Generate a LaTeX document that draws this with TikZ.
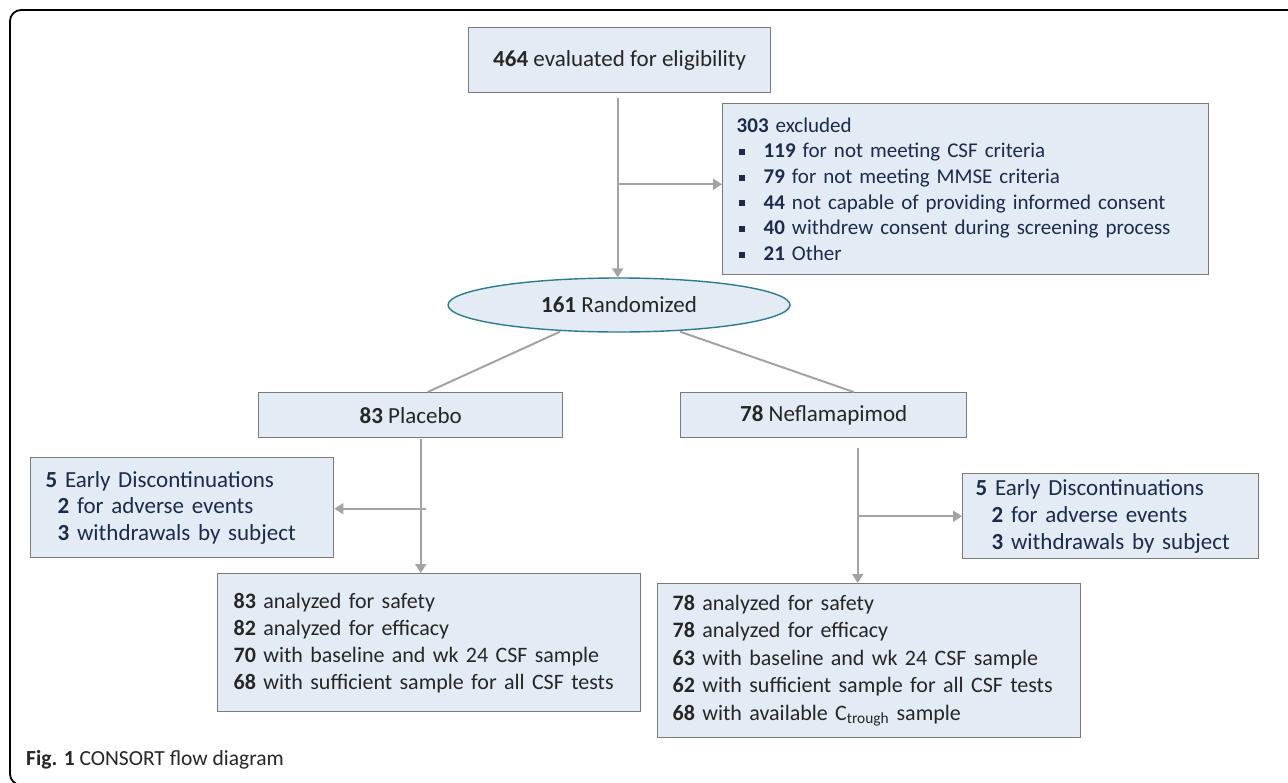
\documentclass[tikz,border=0pt]{standalone}
\usepackage{fontspec}
\setmainfont{Carlito}
\usetikzlibrary{arrows.meta,shapes.geometric,calc}
\definecolor{boxfill}{HTML}{E3EBF4}
\definecolor{boxline}{HTML}{7A7A7A}
\definecolor{arrowgrey}{HTML}{A3A3A3}
\definecolor{navytext}{HTML}{1C2A4C}
\definecolor{darktext}{HTML}{262626}
\definecolor{ellline}{HTML}{2F7B8E}
\newcommand{\mybul}{\makebox[27pt][l]{\hspace*{2pt}\rule[3pt]{6pt}{6pt}}}
\begin{document}
\begin{tikzpicture}[x=1pt,y=-1pt,
  box/.style={draw=boxline, line width=1.4pt, fill=boxfill, text=darktext,
    inner sep=0pt, anchor=north west, font=\fontsize{23}{27}\selectfont},
  navybox/.style={box, text=navytext},
  conn/.style={draw=arrowgrey, line width=2pt},
  arr/.style={conn, -{Triangle[width=11pt,length=9pt]}}]
\useasboundingbox (0,0) rectangle (1288,782);
% frame
\draw[line width=1.8pt, rounded corners=11pt] (1300,10) -- (10,10) -- (10,785) -- (40,785);

% nodes
\node[box, minimum width=302pt, minimum height=65pt] (elig) at (468,27)
  {\textbf{464} evaluated for eligibility};
\node[navybox, text width=458pt, inner xsep=14pt, minimum height=171pt,
  align=left, font=\fontsize{21}{25.7}\selectfont] (excl) at (722,103)
  {\textbf{303} excluded\\
   \mybul\textbf{119} for not meeting CSF criteria\\
   \mybul\textbf{79} for not meeting MMSE criteria\\
   \mybul\textbf{44} not capable of providing informed consent\\
   \mybul\textbf{40} withdrew consent during screening process\\
   \mybul\textbf{21} Other};
\node[draw=ellline, line width=1.4pt, fill=boxfill, ellipse, text=darktext,
  minimum width=342pt, minimum height=54pt, inner sep=0pt,
  font=\fontsize{23}{27}\selectfont] (rand) at (619,305) {\textbf{161} Randomized};
\node[box, minimum width=304pt, minimum height=45pt] (plac) at (258,392)
  {\textbf{83} Placebo};
\node[box, minimum width=286pt, minimum height=45pt] (nefl) at (680,392)
  {\textbf{78} Neflamapimod};
\node[navybox, text width=273pt, inner xsep=15pt, minimum height=100pt,
  align=left, font=\fontsize{23}{26.5}\selectfont] (ldisc) at (30,457)
  {\textbf{5} Early Discontinuations\\
   \hspace*{12pt}\textbf{2} for adverse events\\
   \hspace*{12pt}\textbf{3} withdrawals by subject};
\node[navybox, text width=270pt, inner xsep=13pt, minimum height=85pt,
  align=left, font=\fontsize{23}{27}\selectfont] (rdisc) at (962,473)
  {\textbf{5} Early Discontinuations\\
   \hspace*{16pt}\textbf{2} for adverse events\\
   \hspace*{16pt}\textbf{3} withdrawals by subject};
\node[box, text width=391pt, inner xsep=16pt, minimum height=138pt,
  align=left, font=\fontsize{22}{27}\selectfont] (pana) at (217,573)
  {\textbf{83} analyzed for safety\\
   \textbf{82} analyzed for efficacy\\
   \textbf{70} with baseline and wk 24 CSF sample\\
   \textbf{68} with sufficient sample for all CSF tests};
\node[box, text width=393pt, inner xsep=15pt, minimum height=154pt,
  align=left, font=\fontsize{22}{27.5}\selectfont] (nana) at (657,583)
  {\textbf{78} analyzed for safety\\
   \textbf{78} analyzed for efficacy\\
   \textbf{63} with baseline and wk 24 CSF sample\\
   \textbf{62} with sufficient sample for all CSF tests\\
   \textbf{68} with available C\textsubscript{trough} sample};
\node[anchor=base west, inner sep=0pt, text=darktext,
  font=\fontsize{21.5}{25}\selectfont] (cap) at (26,765)
  {\textbf{Fig. 1} CONSORT flow diagram};

% connectors
\coordinate (e1) at ($(elig.south)+(-2,5)$);
\draw[arr] (e1) -- (rand.north -| e1);
\coordinate (e2) at ($(e1)!0.48!(rand.north -| e1)$);
\draw[arr] (e2) -- (excl.west |- e2);

\coordinate (r1) at ($(rand.south)+(-59,-1)$);
\coordinate (r2) at ($(rand.south)+(61,-1)$);
\draw[conn] (r1) -- ($(plac.north)+(17,0)$);
\draw[conn] (r2) -- ($(nefl.north)+(30,0)$);

\coordinate (p1) at ($(plac.south)+(10,1)$);
\draw[arr] (p1) -- (pana.north -| p1);
\coordinate (p2) at ($(p1 |- ldisc.east)+(5,1)$);
\draw[arr] (p2) -- (ldisc.east |- p2);

\coordinate (n1) at ($(nefl.south)+(34,10)$);
\draw[arr] (n1) -- (nana.north -| n1);
\coordinate (n2) at (n1 |- rdisc.west);
\draw[arr] (n2) -- (rdisc.west);
\end{tikzpicture}
\end{document}
